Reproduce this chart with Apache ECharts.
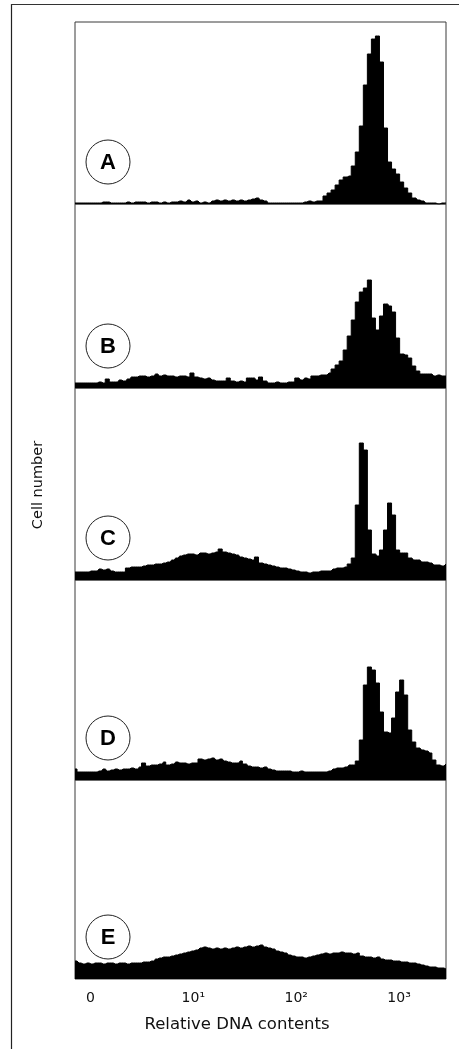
<!DOCTYPE html>
<html><head><meta charset="utf-8">
<script src="https://cdn.jsdelivr.net/npm/echarts@6/dist/echarts.min.js"></script>
<style>html,body{margin:0;padding:0;background:#fff}#c{width:459px;height:1049px}</style>
</head><body><div id="c"></div>
<script>
// ---- data (cell counts per DNA-content channel, log scale) ----
const panelLabels = ['A', 'B', 'C', 'D', 'E'];
const countsA = [1,1,1,1,1,1,1,2,2,1,1,1,1,2,1,2,2,2,1,2,2,1,2,1,2,2,3,2,4,2,3,1,2,1,3,4,3,4,3,4,3,4,3,4,5,6,4,3,1,1,1,1,1,1,1,1,1,2,3,2,3,3,8,11,14,19,24,27,28,38,52,78,119,150,165,168,142,76,42,35,30,22,16,11,6,4,3,1,1,1,0,1,1];
const countsB = [5,5,5,5,5,5,6,5,9,6,6,8,7,9,11,11,12,12,11,12,14,12,13,12,12,11,12,12,11,15,11,10,9,10,8,7,7,7,10,7,6,7,6,10,10,8,11,7,5,5,6,5,5,6,6,10,8,10,9,12,12,13,13,15,19,23,27,38,52,68,86,96,100,108,70,58,72,84,82,76,50,34,33,30,22,17,14,14,14,12,13,12,12];
const countsC = [8,8,8,8,9,9,11,10,11,9,8,8,8,12,13,13,13,14,15,15,16,16,17,18,20,22,24,25,26,26,25,27,27,26,27,28,31,28,27,26,25,23,22,21,20,23,17,16,15,14,13,12,12,11,10,9,8,8,7,8,8,9,9,9,11,12,12,13,16,22,75,137,130,50,26,24,30,50,77,65,30,27,27,22,20,20,18,18,17,15,15,14,16];
const countsD = [11,8,8,8,8,8,9,11,9,10,11,10,11,11,12,11,13,17,14,15,15,16,18,15,16,18,17,17,16,17,17,21,20,21,22,20,21,19,18,17,17,19,16,14,13,13,12,13,11,10,9,9,9,9,8,8,9,8,8,8,8,8,8,9,11,12,12,13,15,15,19,40,95,113,110,97,68,48,47,62,88,100,85,50,38,32,30,29,27,20,15,14,16];
const countsE = [18,16,15,16,15,16,16,15,16,16,15,16,16,15,16,16,16,17,17,18,20,21,22,22,23,24,25,26,27,28,29,31,32,31,30,31,30,31,30,31,32,31,32,33,32,33,34,32,31,30,28,27,26,24,23,22,22,21,22,23,24,25,26,25,26,26,27,26,26,25,26,23,22,22,21,22,20,19,19,18,18,17,17,16,16,15,14,13,12,12,11,11,10];
// x axis: log10 of relative DNA content; "0" marks the first decade
const tickValues = [0, 1, 2, 3];
const tickLabels = ['0', '10¹', '10²', '10³'];
const xTitle = 'Relative DNA contents';
const yTitle = 'Cell number';

const allCounts = [countsA, countsB, countsC, countsD, countsE];
const channels = countsA.map((_, i) => String(i));

// ---- layout ----
const plotLeft = 75, plotRight = 13;
const panelTop = [22, 204, 388, 580, 780];
const panelHeight = [182, 184, 192, 200, 199];
const logMin = -0.15, logMax = 3.456;

const grids = [], xAxes = [], yAxes = [], series = [], graphics = [];
allCounts.forEach((counts, k) => {
  grids.push({ left: plotLeft, right: plotRight, top: panelTop[k], height: panelHeight[k],
    show: true, borderColor: '#3a3a3a', borderWidth: 1, backgroundColor: 'transparent' });
  xAxes.push({ type: 'category', gridIndex: k, data: channels, boundaryGap: false,
    axisLine: { show: false }, axisTick: { show: false }, axisLabel: { show: false }, splitLine: { show: false } });
  yAxes.push({ type: 'value', gridIndex: k, min: 0, max: panelHeight[k],
    axisLine: { show: false }, axisTick: { show: false }, axisLabel: { show: false }, splitLine: { show: false } });
  series.push({ type: 'line', xAxisIndex: k, yAxisIndex: k, data: counts, step: 'middle',
    symbol: 'none', silent: true, animation: false,
    lineStyle: { color: '#000', width: 1 }, areaStyle: { color: '#000', opacity: 1 } });
  const cy = panelTop[k] + panelHeight[k] - 42;
  graphics.push({ type: 'circle', shape: { cx: 108, cy: cy, r: 22 },
    style: { fill: '#fff', stroke: '#222', lineWidth: 1 } });
  graphics.push({ type: 'text', x: 108, y: cy + 1,
    style: { text: panelLabels[k], fill: '#000', font: 'bold 22px "Liberation Sans", Arial, sans-serif',
      textAlign: 'center', textVerticalAlign: 'middle' } });
});
// tick-label axis for the bottom panel (log10 scale)
xAxes.push({ type: 'value', gridIndex: 4, min: logMin, max: logMax, position: 'bottom',
  axisLine: { show: false }, axisTick: { show: false }, splitLine: { show: false },
  axisLabel: { customValues: tickValues, margin: 12, color: '#111', fontSize: 14,
    fontFamily: '"DejaVu Sans", sans-serif',
    formatter: v => tickLabels[tickValues.indexOf(Math.round(v))] } });

// outer frame
graphics.push({ type: 'line', shape: { x1: 11.5, y1: 4, x2: 11.5, y2: 1049 }, style: { stroke: '#222', lineWidth: 1.2 } });
graphics.push({ type: 'line', shape: { x1: 11, y1: 4.5, x2: 459, y2: 4.5 }, style: { stroke: '#333', lineWidth: 1.2 } });
// axis titles
graphics.push({ type: 'text', x: 237, y: 1025,
  style: { text: xTitle, fill: '#111', font: '16.5px "DejaVu Sans", sans-serif', textAlign: 'center', textVerticalAlign: 'middle' } });
graphics.push({ type: 'text', x: 38, y: 485, rotation: Math.PI / 2,
  style: { text: yTitle, fill: '#111', font: '14.5px "DejaVu Sans", sans-serif', textAlign: 'center', textVerticalAlign: 'middle' } });

const chart = echarts.init(document.getElementById('c'), null, { renderer: 'canvas' });
chart.setOption({ animation: false, backgroundColor: '#fff', grid: grids, xAxis: xAxes, yAxis: yAxes,
  series: series, graphic: { elements: graphics } });
</script></body></html>
